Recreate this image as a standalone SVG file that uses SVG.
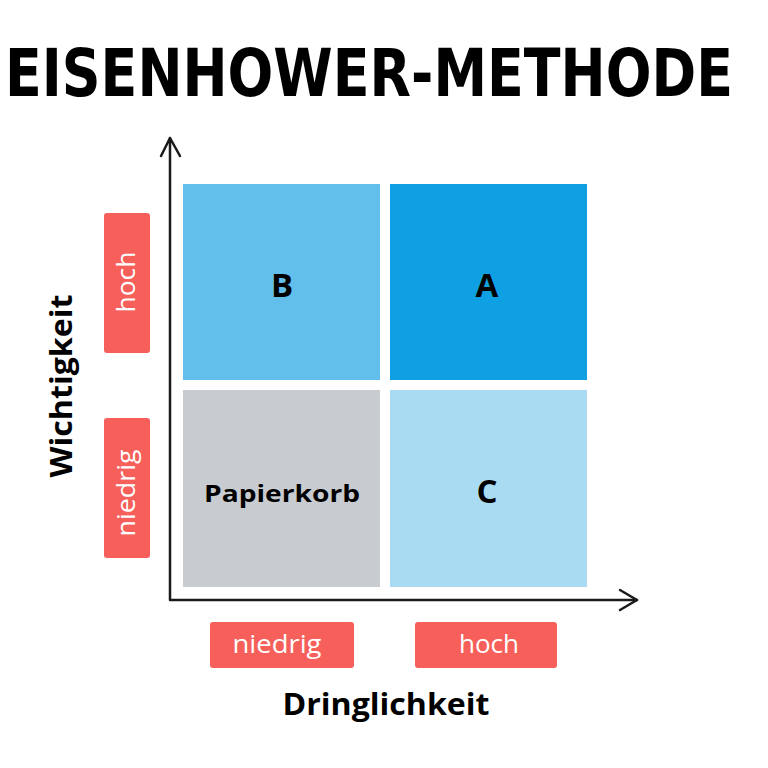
<svg xmlns="http://www.w3.org/2000/svg" width="768" height="768" viewBox="0 0 768 768">
<style>
.axis{fill:none;stroke:#1a1a1a;stroke-width:2.5;stroke-linecap:round;stroke-linejoin:round}
.q{font-family:"Open Sans","DejaVu Sans",sans-serif;font-weight:700;fill:#000;text-anchor:middle}
.tag{fill:#F65F5A}
.tt{font-family:"Open Sans","DejaVu Sans",sans-serif;fill:#fff;font-size:25px;text-anchor:middle}
.ax{font-family:"Open Sans","DejaVu Sans",sans-serif;font-weight:700;font-size:31px;fill:#000;text-anchor:middle}
</style>
<rect width="768" height="768" fill="#fff"/>
<text transform="translate(5 96) scale(1 1.15)" font-family="'DejaVu Sans Condensed','DejaVu Sans',sans-serif" font-weight="700" font-size="57" textLength="728" lengthAdjust="spacingAndGlyphs" fill="#000">EISENHOWER-METHODE</text>
<g id="connectors">
<path class="axis" d="M170 138 L170 600 L637 600"/>
<path class="axis" d="M161 156 L170 138 L180 156"/>
<path class="axis" d="M620 590 L637 600 L620 610"/>
</g>
<g id="B"><rect x="183" y="184" width="197" height="196" fill="#62BFEB"/><text class="q" x="282" y="297" font-size="33">B</text></g>
<g id="A"><rect x="390" y="184" width="197" height="196" fill="#0EA0E2"/><text class="q" x="487" y="297" font-size="33">A</text></g>
<g id="Papierkorb"><rect x="183" y="390" width="197" height="197" fill="#C8CBCF"/><text class="q" x="282" y="502" font-size="24" textLength="156" lengthAdjust="spacingAndGlyphs">Papierkorb</text></g>
<g id="C"><rect x="390" y="390" width="197" height="197" fill="#A9DCF3"/><text class="q" x="487" y="503" font-size="33">C</text></g>
<g id="tag-hoch-v"><rect class="tag" x="104" y="213" width="46" height="140" rx="3"/><text class="tt" transform="translate(135 282) rotate(-90)" textLength="61" lengthAdjust="spacingAndGlyphs">hoch</text></g>
<g id="tag-niedrig-v"><rect class="tag" x="104" y="418" width="46" height="140" rx="3"/><text class="tt" transform="translate(135 493) rotate(-90)" textLength="87" lengthAdjust="spacingAndGlyphs">niedrig</text></g>
<g id="tag-niedrig-h"><rect class="tag" x="210" y="622" width="144" height="46" rx="3"/><text class="tt" x="277" y="653" textLength="89" lengthAdjust="spacingAndGlyphs">niedrig</text></g>
<g id="tag-hoch-h"><rect class="tag" x="415" y="622" width="142" height="46" rx="3"/><text class="tt" x="489" y="653" textLength="60" lengthAdjust="spacingAndGlyphs">hoch</text></g>
<text class="ax" x="386" y="715" textLength="207" lengthAdjust="spacingAndGlyphs">Dringlichkeit</text>
<text class="ax" transform="translate(72 386) rotate(-90)" textLength="183" lengthAdjust="spacingAndGlyphs">Wichtigkeit</text>
</svg>
